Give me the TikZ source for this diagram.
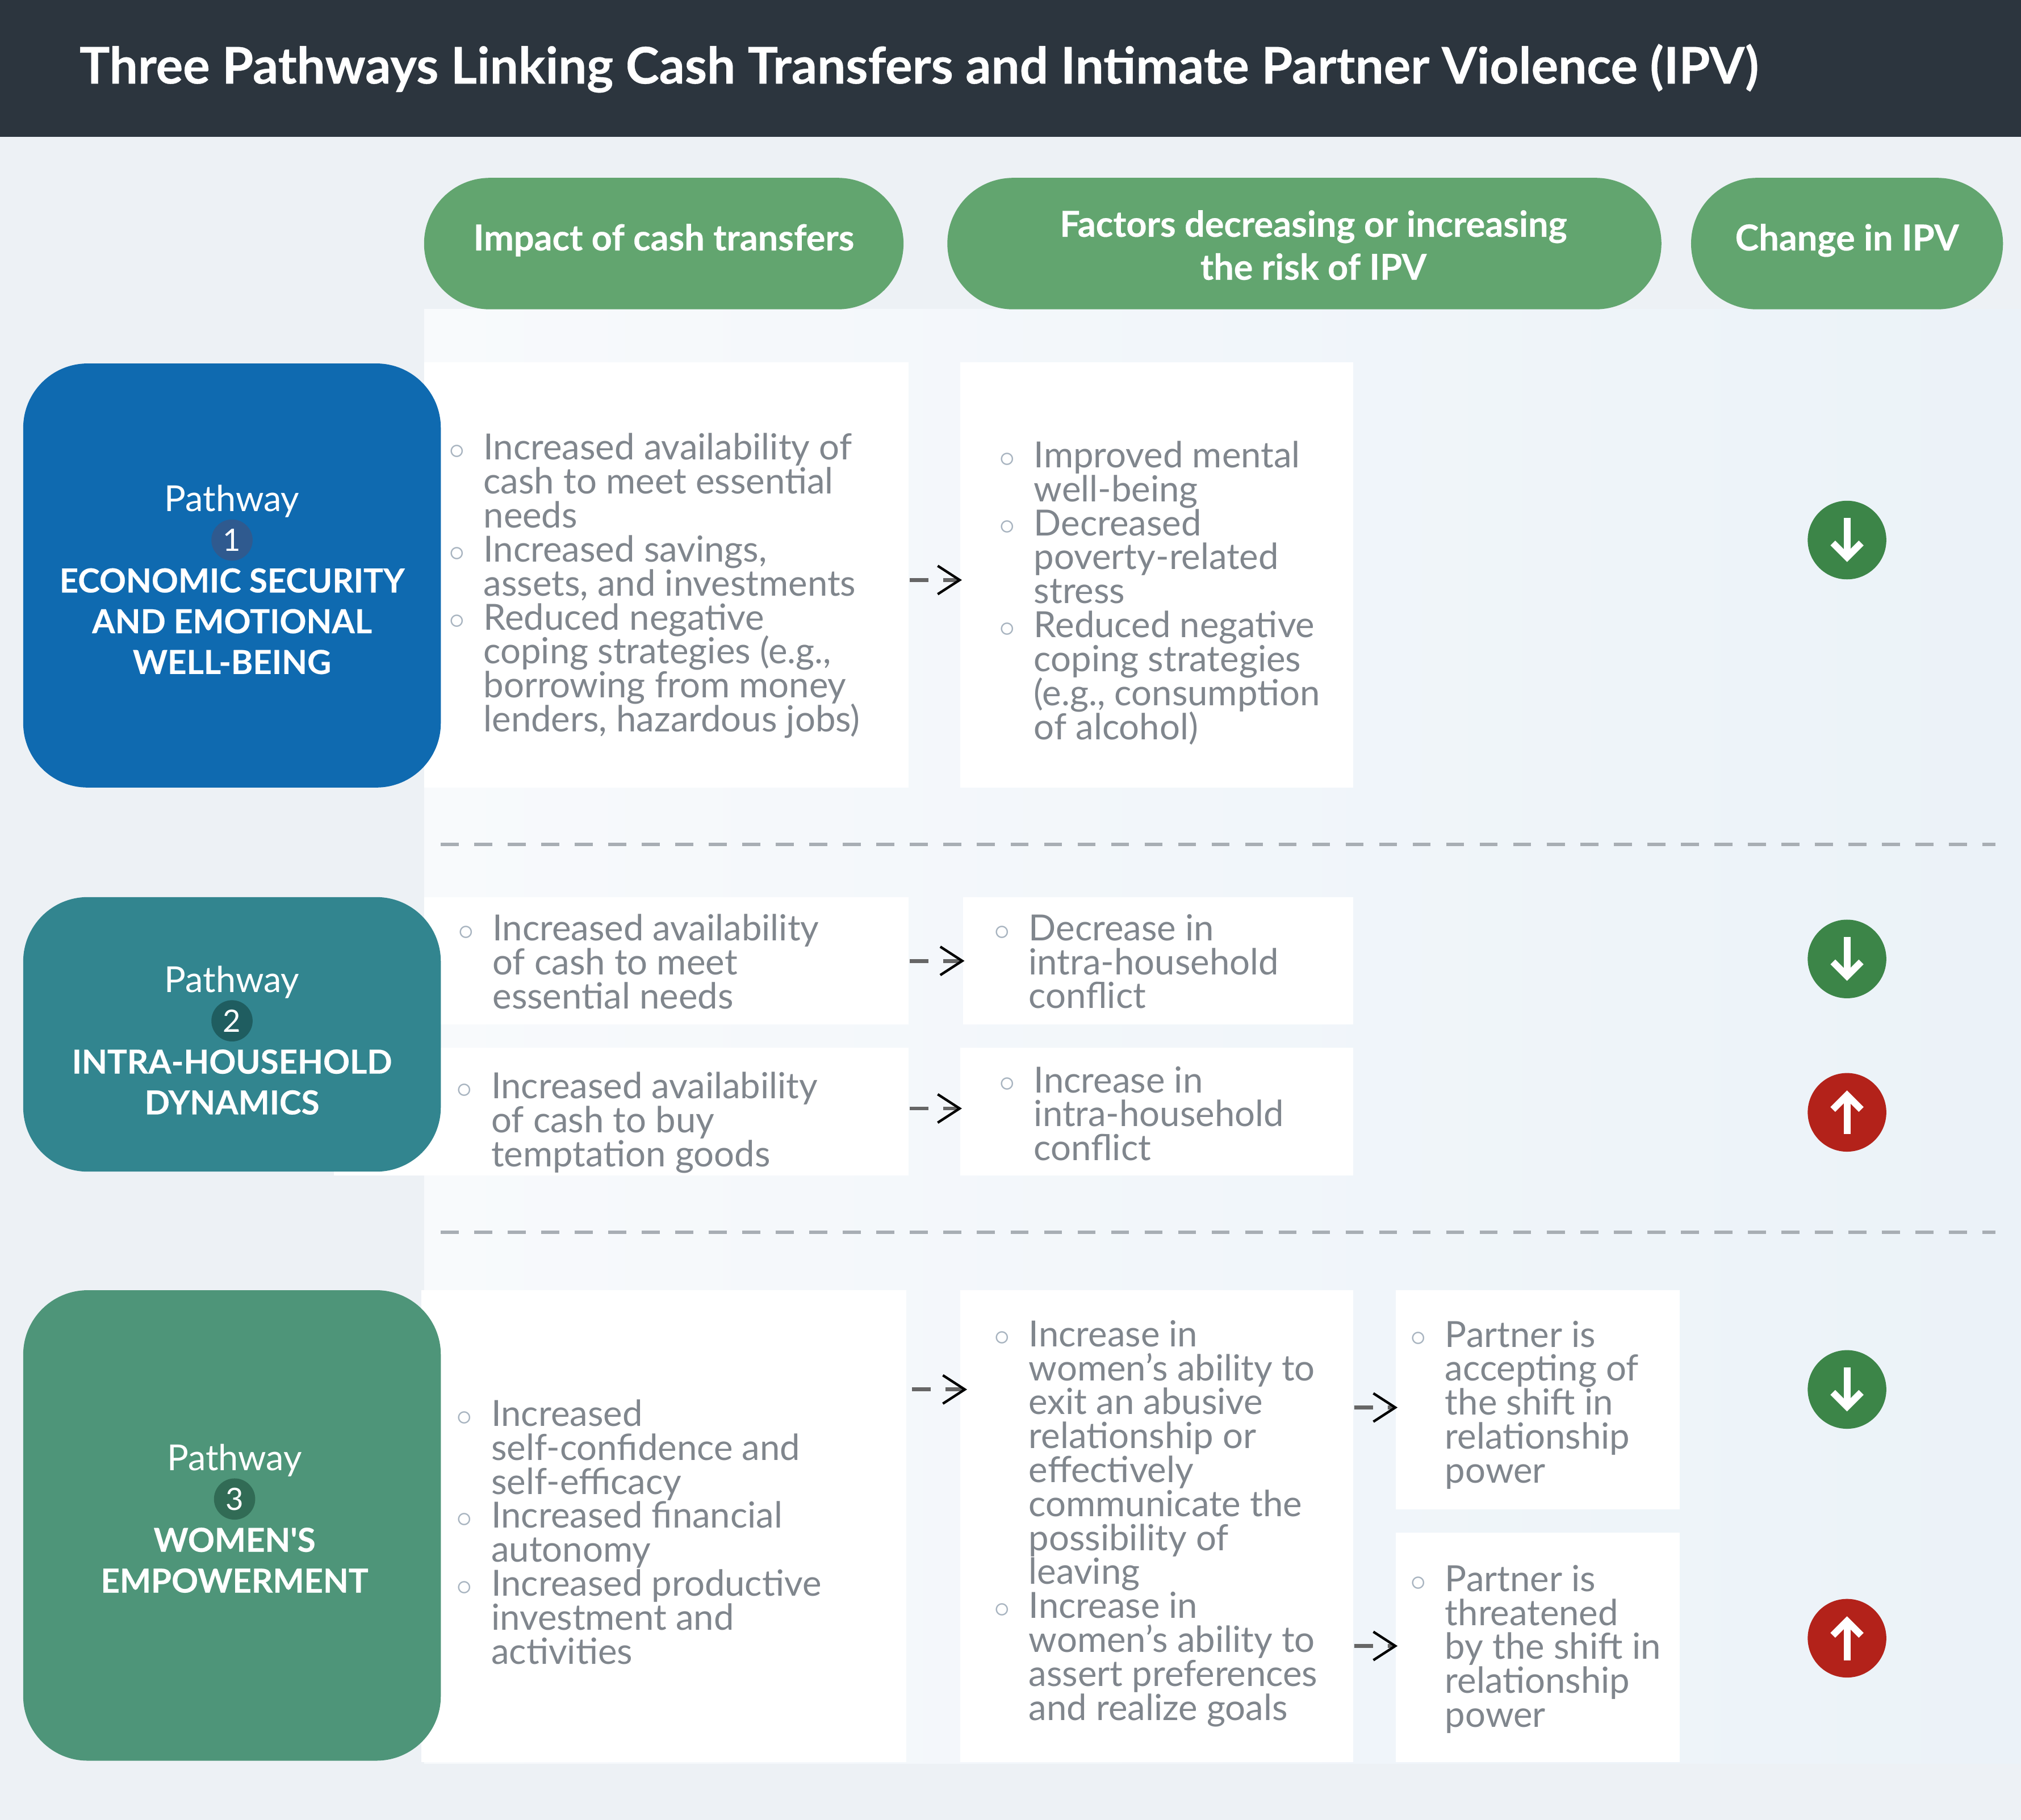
\documentclass[tikz,border=0pt]{standalone}
\usepackage{fontspec}
\setmainfont{Lato}
\usetikzlibrary{arrows.meta}
\definecolor{pagebg}{HTML}{EDF1F5}
\definecolor{panelleft}{HTML}{F8FAFC}
\definecolor{panelright}{HTML}{EBF2F8}
\definecolor{headbg}{HTML}{2C353E}
\definecolor{pillgreen}{HTML}{62A56F}
\definecolor{pathblue}{HTML}{0F6AB0}
\definecolor{pathteal}{HTML}{32858F}
\definecolor{pathgreen}{HTML}{4E9579}
\definecolor{numblue}{HTML}{2F5A8F}
\definecolor{numteal}{HTML}{1F5D60}
\definecolor{numgreen}{HTML}{316B55}
\definecolor{bodygray}{HTML}{80868D}
\definecolor{dotgray}{HTML}{A8B4C0}
\definecolor{sepgray}{HTML}{A8AEB4}
\definecolor{flowgray}{HTML}{666666}
\definecolor{downgreen}{HTML}{3C8548}
\definecolor{upred}{HTML}{B3221A}
\newcommand{\blt}{\llap{\textcolor{dotgray}{\raisebox{0.4pt}{$\scriptstyle\circ$}}\hspace{0.14cm}}}
\newcommand{\tightlines}{\setlength{\lineskiplimit}{-10pt}}
\tikzset{
	whitebox/.style={fill=white,inner sep=0pt},
	pill/.style={fill=pillgreen,rounded corners=0.51cm,inner sep=0pt,minimum height=1.02cm,text=white,align=center,font=\fontsize{7.9}{9.5}\selectfont\bfseries\addfontfeature{FakeBold=0.3}},
	pathbox/.style={rounded corners=0.5cm,inner sep=0pt,minimum width=3.24cm},
	pathword/.style={text=white,inner sep=0pt,font=\fontsize{7.9}{9}\selectfont},
	pathnum/.style={circle,inner sep=0pt,minimum size=0.32cm,text=white,font=\fontsize{6.8}{8}\selectfont},
	pathtitle/.style={text=white,inner sep=0pt,align=center,font=\fontsize{7.3}{9}\selectfont\bfseries\addfontfeature{FakeBold=0.3}},
	bodytext/.style={anchor=west,inner sep=0pt,align=left,text=bodygray,font=\fontsize{7.95}{7.5}\selectfont\tightlines},
	flow/.style={draw=flowgray,line width=0.85pt,dash pattern=on 0.145cm off 0.115cm,shorten >=-0.02cm,-{Straight Barb[black,length=0.17cm,width=0.22cm,line width=0.55pt]}},
	sepline/.style={draw=sepgray,line width=0.8pt,dash pattern=on 0.14cm off 0.12cm},
	change/.style={circle,inner sep=0pt,minimum size=0.61cm},
	changearrow/.style={draw=white,line width=1.5pt,-{Straight Barb[white,length=0.11cm,width=0.22cm,line width=1.5pt]}},
}
\begin{document}
\begin{tikzpicture}
	\useasboundingbox (0,0) rectangle (15.68,-14.12);
	
	%background
	\fill[pagebg] (0,0) rectangle (15.68,-14.12);
	\shade[left color=panelleft,right color=panelright] (3.29,-2.40) rectangle (15.68,-13.68);
	\fill[headbg] (0,0) rectangle (15.68,-1.06);
	\node[anchor=west,inner sep=0pt,text=white,font=\fontsize{11.15}{13}\selectfont\bfseries\addfontfeature{FakeBold=0.4}] (title) at (0.61,-0.53) {Three Pathways Linking Cash Transfers and Intimate Partner Violence (IPV)};
	
	%header pills
	\node[pill,text depth=0.10cm,minimum width=3.72cm] (headimpact) at (5.15,-1.89) {Impact of cash transfers};
	\node[pill,minimum width=5.54cm] (headfactors) at (10.12,-1.89) {\hspace*{0.14cm}\rule{0pt}{0.23cm}Factors decreasing or increasing\\\hspace*{0.14cm}the risk of IPV};
	\node[pill,text depth=0.10cm,minimum width=2.42cm] (headchange) at (14.33,-1.89) {Change in IPV};
	
	%white boxes
	\node[whitebox,minimum width=3.76cm,minimum height=3.30cm] (boxa) at (5.17,-4.46) {};
	\node[whitebox,minimum width=3.05cm,minimum height=3.30cm] (boxb) at (8.975,-4.46) {};
	\node[whitebox,minimum width=3.76cm,minimum height=0.99cm] (boxc) at (5.17,-7.455) {};
	\node[whitebox,minimum width=3.03cm,minimum height=0.99cm] (boxd) at (8.985,-7.455) {};
	\node[whitebox,minimum width=4.46cm,minimum height=0.99cm] (boxe) at (4.82,-8.625) {};
	\node[whitebox,minimum width=3.05cm,minimum height=0.99cm] (boxf) at (8.975,-8.625) {};
	\node[whitebox,minimum width=3.76cm,minimum height=3.66cm] (boxg) at (5.15,-11.84) {};
	\node[whitebox,minimum width=3.05cm,minimum height=3.66cm] (boxh) at (8.975,-11.84) {};
	\node[whitebox,minimum width=2.20cm,minimum height=1.70cm] (boxi) at (11.93,-10.86) {};
	\node[whitebox,minimum width=2.20cm,minimum height=1.78cm] (boxj) at (11.93,-12.78) {};
	
	%body texts
	\node[bodytext] (txta) at (3.745,-4.545) {\blt Increased availability of\\cash to meet essential\\needs\\\blt Increased savings,\\assets, and investments\\\blt Reduced negative\\coping strategies (e.g.,\\borrowing from money\\lenders, hazardous jobs)};
	\node[bodytext] (txtb) at (8.015,-4.60) {\blt Improved mental\\well-being\\\blt Decreased\\poverty-related\\stress\\\blt Reduced negative\\coping strategies\\(e.g., consumption\\of alcohol)};
	\node[bodytext] (txtc) at (3.815,-7.46) {\blt Increased availability\\of cash to meet\\essential needs};
	\node[bodytext] (txtd) at (7.975,-7.46) {\blt Decrease in\\intra-household\\conflict};
	\node[bodytext] (txte) at (3.805,-8.71) {\blt Increased availability\\of cash to buy\\temptation goods};
	\node[bodytext] (txtf) at (8.015,-8.64) {\blt Increase in\\intra-household\\conflict};
	\node[bodytext] (txtg) at (3.805,-11.885) {\blt Increased\\self-confidence and\\self-efficacy\\\blt Increased financial\\autonomy\\\blt Increased productive\\investment and\\activities};
	\node[bodytext] (txth) at (7.975,-11.82) {\blt Increase in\\women’s ability to\\exit an abusive\\relationship or\\effectively\\communicate the\\possibility of\\leaving\\\blt Increase in\\women’s ability to\\assert preferences\\and realize goals};
	\node[bodytext] (txti) at (11.205,-10.90) {\blt Partner is\\accepting of\\the shift in\\relationship\\power};
	\node[bodytext] (txtj) at (11.205,-12.795) {\blt Partner is\\threatened\\by the shift in\\relationship\\power};
	
	%pathway boxes
	\node[pathbox,fill=pathblue,minimum height=3.29cm] (pathone) at (1.80,-4.465) {};
	\node[pathbox,fill=pathteal,minimum height=2.13cm] (pathtwo) at (1.80,-8.025) {};
	\node[pathbox,fill=pathgreen,minimum height=3.65cm] (paththree) at (1.80,-11.835) {};
	
	%pathway labels
	\node[pathword] (wordone) at (1.80,-3.89) {Pathway};
	\node[pathnum,fill=numblue] (numone) at (1.80,-4.19) {1};
	\node[pathtitle] (titleone) at (1.80,-4.82) {ECONOMIC SECURITY\\AND EMOTIONAL\\WELL-BEING};
	%
	\node[pathword] (wordtwo) at (1.80,-7.62) {Pathway};
	\node[pathnum,fill=numteal] (numtwo) at (1.80,-7.92) {2};
	\node[pathtitle] (titletwo) at (1.80,-8.395) {INTRA-HOUSEHOLD\\DYNAMICS};
	%
	\node[pathword] (wordthree) at (1.82,-11.33) {Pathway};
	\node[pathnum,fill=numgreen] (numthree) at (1.82,-11.63) {3};
	\node[pathtitle] (titlethree) at (1.82,-12.105) {WOMEN\textquotesingle S\\EMPOWERMENT};
	
	%separators
	\coordinate (sepone) at (3.42,-6.55);
	\coordinate (sepone end) at (15.48,-6.55);
	\coordinate (septwo) at (3.42,-9.56);
	\coordinate (septwo end) at (15.48,-9.56);
	\draw[sepline] (sepone)--(sepone end);
	\draw[sepline] (septwo)--(septwo end);
	
	%arrows between boxes
	\draw[flow] ([yshift=-0.04cm]boxa.east)--([yshift=-0.04cm]boxb.west);
	\draw[flow] (boxc.east)--(boxd.west);
	\draw[flow] ([yshift=0.025cm]boxe.east)--([yshift=0.025cm]boxf.west);
	\draw[flow] ([xshift=0.04cm,yshift=1.06cm]boxg.east)--([xshift=0.04cm,yshift=1.06cm]boxh.west);
	\draw[flow] ([yshift=0.92cm]boxh.east)--(boxi.west |- 0,-10.92);
	\draw[flow] ([yshift=-0.93cm]boxh.east)--(boxj.west |- 0,-12.77);
	
	%change in IPV
	\node[change,fill=downgreen] (changeone) at (14.33,-4.19) {};
	\node[change,fill=downgreen] (changetwo) at (14.33,-7.44) {};
	\node[change,fill=upred] (changethree) at (14.33,-8.63) {};
	\node[change,fill=downgreen] (changefour) at (14.33,-10.78) {};
	\node[change,fill=upred] (changefive) at (14.33,-12.71) {};
	%
	\draw[changearrow] ([yshift=0.17cm]changeone.center)--([yshift=-0.17cm]changeone.center);
	\draw[changearrow] ([yshift=0.17cm]changetwo.center)--([yshift=-0.17cm]changetwo.center);
	\draw[changearrow] ([yshift=-0.17cm]changethree.center)--([yshift=0.17cm]changethree.center);
	\draw[changearrow] ([yshift=0.17cm]changefour.center)--([yshift=-0.17cm]changefour.center);
	\draw[changearrow] ([yshift=-0.17cm]changefive.center)--([yshift=0.17cm]changefive.center);
\end{tikzpicture}
\end{document}
